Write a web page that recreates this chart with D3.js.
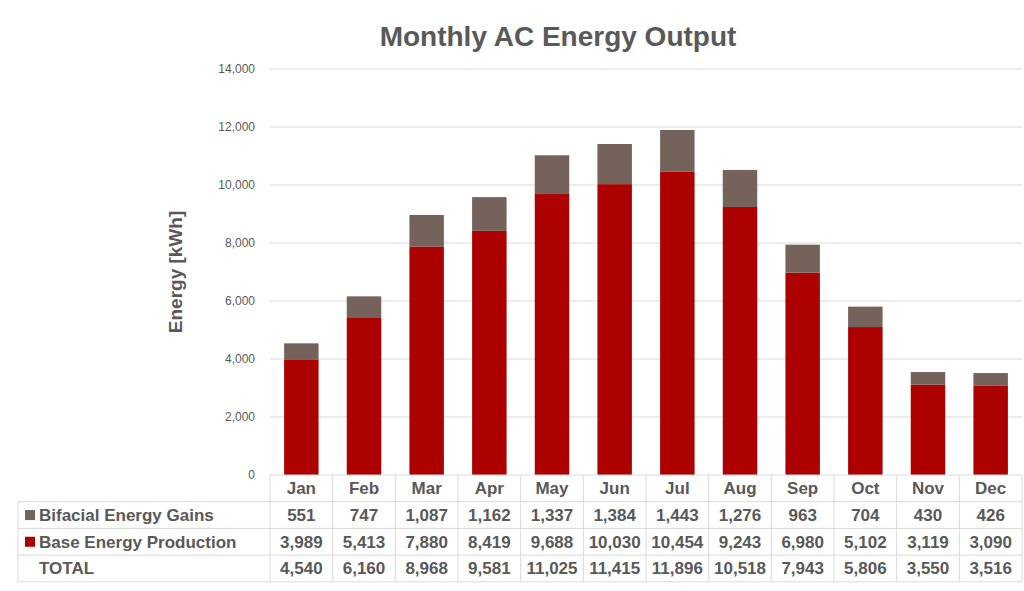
<!DOCTYPE html>
<html lang="en">
<head>
<meta charset="UTF-8">
<title>Monthly AC Energy Output</title>
<style>
  body { margin:0; background:#fff; font-family: Arial, "Liberation Sans", sans-serif; }
</style>
</head>
<body>
<svg id="chart"></svg>
<script src="https://cdn.jsdelivr.net/npm/d3@7"></script>
<script>
var months = ["Jan","Feb","Mar","Apr","May","Jun","Jul","Aug","Sep","Oct","Nov","Dec"];
var bifacial = [551,747,1087,1162,1337,1384,1443,1276,963,704,430,426];
var base = [3989,5413,7880,8419,9688,10030,10454,9243,6980,5102,3119,3090];
var totals = [4540,6160,8968,9581,11025,11415,11896,10518,7943,5806,3550,3516];
var yTicks = [0,2000,4000,6000,8000,10000,12000,14000];

(function() {
var W = 1024, H = 591;
var plotLeft = 270, plotRight = 1022, plotTop = 69, plotBottom = 475;
var rowH = 26.7;
var tableLeft = 18;

var svg = d3.select("#chart").attr("width", W).attr("height", H);

var x = d3.scaleBand().domain(months).range([plotLeft, plotRight]).paddingInner(0.45).paddingOuter(0.225);
var xc = d3.scaleBand().domain(months).range([plotLeft, plotRight]);
var y = d3.scaleLinear().domain([0, 14000]).range([plotBottom, plotTop]);
var fmt = d3.format(",");

svg.append("text").attr("x", 558).attr("y", 46).attr("text-anchor", "middle")
  .attr("font-size", 28).attr("font-weight", "bold").attr("fill", "#595959")
  .text("Monthly AC Energy Output");

// gridlines
svg.append("g").selectAll("line").data(yTicks.filter(function(d){ return d > 0; })).enter().append("line")
  .attr("x1", plotLeft).attr("x2", plotRight)
  .attr("y1", function(d){ return y(d); }).attr("y2", function(d){ return y(d); })
  .attr("stroke", "#d9d9d9");

var yAxis = svg.append("g").attr("transform", "translate(" + (plotLeft - 12) + ",0)")
  .call(d3.axisLeft(y).tickValues(yTicks).tickFormat(fmt).tickSize(0));
yAxis.select(".domain").remove();
yAxis.selectAll("text").attr("font-size", 12).attr("fill", "#595959").attr("font-family", "Arial, Liberation Sans, sans-serif");

svg.append("text").attr("transform", "translate(182," + ((plotTop + plotBottom) / 2) + ") rotate(-90)")
  .attr("text-anchor", "middle").attr("font-size", 19).attr("font-weight", "bold").attr("fill", "#595959")
  .text("Energy [kWh]");

// stacked bars
svg.append("g").selectAll("rect").data(months).enter().append("rect")
  .attr("x", function(d){ return x(d); }).attr("width", x.bandwidth())
  .attr("y", function(d, i){ return y(base[i]); })
  .attr("height", function(d, i){ return y(0) - y(base[i]); })
  .attr("fill", "#ad0000");
svg.append("g").selectAll("rect").data(months).enter().append("rect")
  .attr("x", function(d){ return x(d); }).attr("width", x.bandwidth())
  .attr("y", function(d, i){ return y(base[i] + bifacial[i]); })
  .attr("height", function(d, i){ return y(base[i]) - y(base[i] + bifacial[i]); })
  .attr("fill", "#75625a");

// data table
var grid = svg.append("g").attr("stroke", "#d9d9d9").attr("fill", "none");
grid.append("line").attr("x1", plotLeft).attr("x2", plotRight).attr("y1", plotBottom).attr("y2", plotBottom);
for (var r = 1; r <= 4; r++) {
  grid.append("line").attr("x1", tableLeft).attr("x2", plotRight)
    .attr("y1", plotBottom + r * rowH).attr("y2", plotBottom + r * rowH);
}
grid.selectAll("line.v").data(d3.range(13)).enter().append("line")
  .attr("x1", function(i){ return plotLeft + i * xc.bandwidth(); })
  .attr("x2", function(i){ return plotLeft + i * xc.bandwidth(); })
  .attr("y1", plotBottom).attr("y2", plotBottom + 4 * rowH);
grid.append("line").attr("x1", tableLeft).attr("x2", tableLeft).attr("y1", plotBottom + rowH).attr("y2", plotBottom + 4 * rowH);

var txt = svg.append("g").attr("font-size", 17).attr("font-weight", "bold").attr("fill", "#595959");
txt.selectAll("text.m").data(months).enter().append("text")
  .attr("x", function(d){ return xc(d) + xc.bandwidth() / 2; }).attr("y", plotBottom + rowH / 2 + 6)
  .attr("text-anchor", "middle").text(function(d){ return d; });

var rows = [
  { label: "Bifacial Energy Gains", values: bifacial, color: "#75625a" },
  { label: "Base Energy Production", values: base, color: "#ad0000" },
  { label: "TOTAL", values: totals, color: null }
];
rows.forEach(function(row, r) {
  var cy = plotBottom + (r + 1.5) * rowH;
  if (row.color) svg.append("rect").attr("x", 25).attr("y", cy - 5).attr("width", 10).attr("height", 10).attr("fill", row.color);
  txt.append("text").attr("x", 39).attr("y", cy + 6).text(row.label);
  txt.selectAll(null).data(row.values).enter().append("text")
    .attr("x", function(d, i){ return xc(months[i]) + xc.bandwidth() / 2; }).attr("y", cy + 6)
    .attr("text-anchor", "middle").text(function(d){ return fmt(d); });
});
})();
</script>
</body>
</html>
